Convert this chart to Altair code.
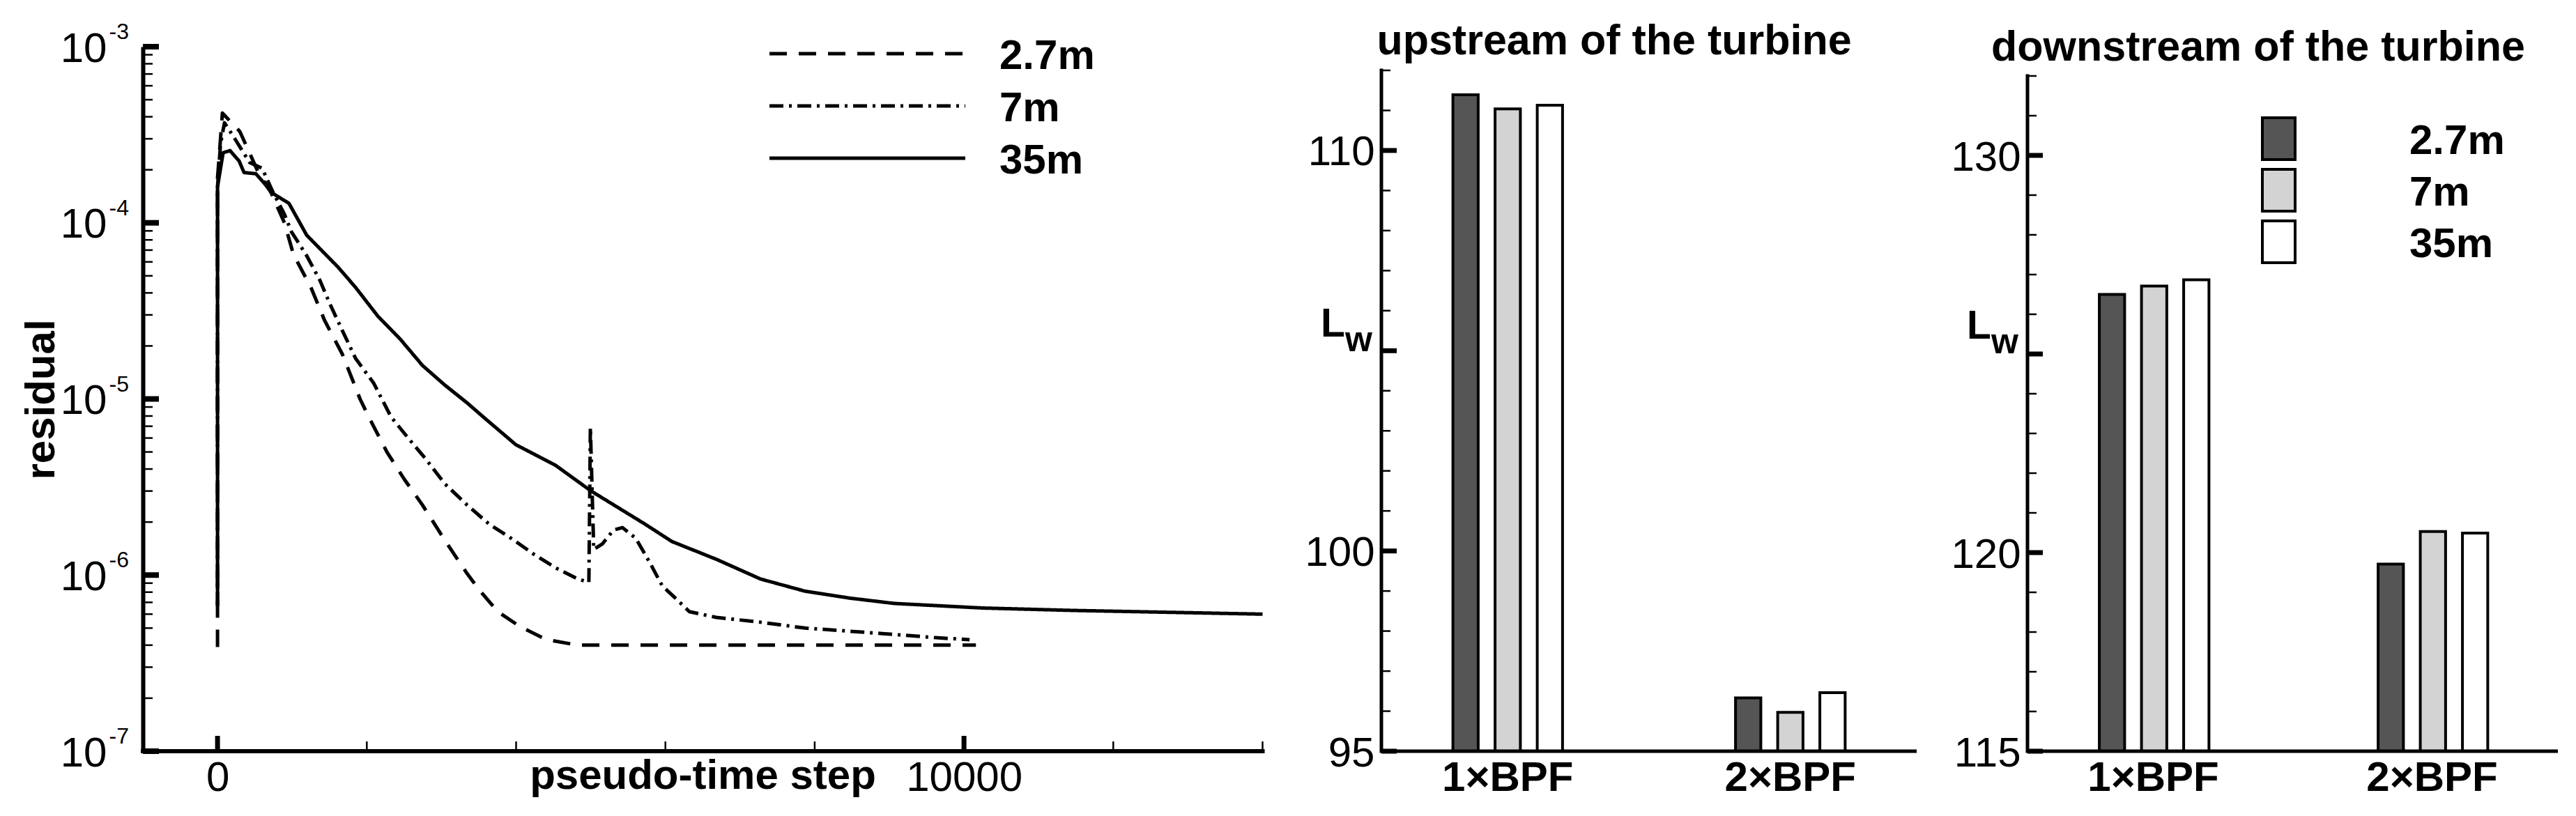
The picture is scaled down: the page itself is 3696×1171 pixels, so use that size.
import altair as alt
import pandas as pd

FONT = "Liberation Sans"

# ---------------- data: residual histories ----------------
grids = ["2.7m", "7m", "35m"]

steps_2p7m = [0, 0, 40, 65, 299, 542, 719, 896, 1018, 1251, 1433, 1671, 1909, 2026, 2269,
              2502, 2745, 3044, 3343, 3520, 3754, 4052, 4407, 4827, 6000, 8000, 10160]
resid_2p7m = [3.9e-7, 1.8e-4, 3.0e-4, 4.2e-4, 3.3e-4, 1.95e-4, 1.48e-4, 1.0e-4, 6.6e-5, 4.3e-5,
              2.8e-5, 1.8e-5, 1.0e-5, 7.9e-6, 5.0e-6, 3.5e-6, 2.5e-6, 1.58e-6, 1.02e-6, 8.1e-7,
              6.2e-7, 5.1e-7, 4.3e-7, 4.0e-7, 4.0e-7, 4.0e-7, 4.0e-7]

steps_7m = [0, 0, 40, 93, 243, 430, 598, 747, 896, 990, 1195, 1373, 1494, 1671, 1849, 2092,
            2325, 2568, 2801, 3044, 3343, 3637, 3931, 4230, 4528, 4827, 4975, 4995, 5040,
            5154, 5303, 5425, 5602, 5780, 5957, 6134, 6321, 6681, 7274, 7871, 8469, 9066,
            9655, 10075]
resid_7m = [6.7e-7, 1.6e-4, 2.8e-4, 3.7e-4, 2.95e-4, 2.2e-4, 2.04e-4, 1.48e-4, 1.12e-4, 8.9e-5,
            6.5e-5, 4.7e-5, 3.55e-5, 2.45e-5, 1.7e-5, 1.23e-5, 7.9e-6, 5.9e-6, 4.5e-6, 3.3e-6,
            2.5e-6, 1.95e-6, 1.62e-6, 1.32e-6, 1.10e-6, 9.5e-7, 9.1e-7, 6.9e-6, 1.4e-6,
            1.5e-6, 1.8e-6, 1.86e-6, 1.62e-6, 1.2e-6, 8.7e-7, 7.4e-7, 6.2e-7, 5.75e-7, 5.4e-7,
            5.0e-7, 4.8e-7, 4.6e-7, 4.4e-7, 4.3e-7]

steps_35m = [0, 0, 75, 168, 290, 355, 514, 635, 728, 957, 1195, 1615, 1849, 2148, 2446, 2745,
             3044, 3343, 3576, 3996, 4528, 5005, 5724, 6088, 6681, 7274, 7871, 8469, 9066,
             10252, 11447, 14000]
resid_35m = [6.7e-7, 1.6e-4, 2.5e-4, 2.57e-4, 2.24e-4, 1.93e-4, 1.9e-4, 1.66e-4, 1.48e-4,
             1.29e-4, 8.5e-5, 5.6e-5, 4.3e-5, 2.95e-5, 2.19e-5, 1.55e-5, 1.2e-5, 9.5e-6,
             7.8e-6, 5.5e-6, 4.2e-6, 3.0e-6, 1.95e-6, 1.55e-6, 1.23e-6, 9.5e-7, 8.1e-7,
             7.4e-7, 6.9e-7, 6.5e-7, 6.3e-7, 6.0e-7]

# ---------------- data: sound power levels ----------------
categories = ["1×BPF", "2×BPF"]
up_1bpf = [111.39, 111.04, 111.13]
up_2bpf = [96.33, 95.97, 96.46]
down_1bpf = [126.50, 126.71, 126.87]
down_2bpf = [119.71, 120.53, 120.49]

# ---------------- axis tick values ----------------
res_major = [1e-7, 1e-6, 1e-5, 1e-4, 1e-3]
res_exponents = ["-7", "-6", "-5", "-4", "-3"]
res_minor = [k * 10.0 ** e for e in range(-7, -3) for k in range(2, 10)]
step_labels = [0, 10000]
step_minor = [2000, 4000, 6000, 8000, 12000, 14000]

up_major = [95, 100, 105, 110]
up_minor = [96, 97, 98, 99, 101, 102, 103, 104, 106, 107, 108, 109, 111, 112]
up_labels = [95, 100, 110]
down_major = [115, 120, 125, 130]
down_minor = [116, 117, 118, 119, 121, 122, 123, 124, 126, 127, 128, 129, 131, 132]
down_labels = [115, 120, 130]

# ---------------- layout ----------------
W1, W2, W3, H = 1618, 768, 761, 1011

rows = []
for name, st, rs in zip(grids, [steps_2p7m, steps_7m, steps_35m], [resid_2p7m, resid_7m, resid_35m]):
    for i, (s, r) in enumerate(zip(st, rs)):
        rows.append({"grid": name, "step": s, "res": r, "idx": i})
df_lines = pd.DataFrame(rows)

xs1 = alt.Scale(domain=[-1000, -1000 + W1 / 0.1071], nice=False, zero=False)
ys1 = alt.Scale(type="log", domain=[1e-7, 1e-3], nice=False)
dash_scale = alt.Scale(domain=grids, range=[[25, 17], [20, 8, 4, 8], [1, 0]])
fill_scale = alt.Scale(domain=grids, range=["#555555", "#d3d3d3", "#ffffff"])

lines = alt.Chart(df_lines).mark_line(color="black", strokeWidth=5, strokeJoin="round").encode(
    x=alt.X("step:Q", scale=xs1, axis=alt.Axis(
        values=step_labels, format="d", domain=False, ticks=False, tickSize=0, grid=False,
        labelFont=FONT, labelFontSize=60, labelColor="black", labelPadding=9,
        title="pseudo-time step", titleFont=FONT, titleFontSize=60, titleFontWeight="bold",
        titleColor="black", titleX=803, titleY=53, titleBaseline="alphabetic", titleAlign="center")),
    y=alt.Y("res:Q", scale=ys1, axis=alt.Axis(
        values=res_major, labelExpr="'10'", domain=True, domainColor="black", domainWidth=6,
        ticks=False, tickSize=0, grid=False, labelFont=FONT, labelFontSize=60,
        labelColor="black", labelPadding=52, labelOffset=3,
        title="residual", titleFont=FONT, titleFontSize=60, titleFontWeight="bold",
        titleColor="black", titleX=-128, titleY=506, titleAngle=270,
        titleBaseline="alphabetic", titleAlign="center")),
    strokeDash=alt.StrokeDash("grid:N", scale=dash_scale, legend=None),
    order=alt.Order("idx:Q"),
)


def vrules(df, field, scale, length, width):
    return alt.Chart(df).mark_rule(color="black", strokeWidth=width).encode(
        y=alt.Y(f"{field}:Q", scale=scale),
        x=alt.value(0), x2=alt.value(length))


def hrules(df, field, scale, length, width):
    return alt.Chart(df).mark_rule(color="black", strokeWidth=width).encode(
        x=alt.X(f"{field}:Q", scale=scale),
        y=alt.value(H), y2=alt.value(H - length))


ymaj1 = vrules(pd.DataFrame({"res": res_major}), "res", ys1, 23, 8)
ymin1 = vrules(pd.DataFrame({"res": res_minor}), "res", ys1, 14, 2.5)
xmaj1 = hrules(pd.DataFrame({"step": step_labels}), "step", xs1, 22, 7)
xmin1 = hrules(pd.DataFrame({"step": step_minor}), "step", xs1, 14, 2.5)
xline1 = alt.Chart(pd.DataFrame({"step": [-1000], "step_end": [14000]})).mark_rule(
    color="black", strokeWidth=6, strokeCap="square").encode(
    x=alt.X("step:Q", scale=xs1), x2="step_end:Q", y=alt.value(H))
sup1 = alt.Chart(pd.DataFrame({"res": res_major, "sup": res_exponents})).mark_text(
    font=FONT, fontSize=32, align="right", baseline="middle", dy=-21, color="black").encode(
    y=alt.Y("res:Q", scale=ys1), x=alt.value(-20), text="sup:N")

# legend of the residual panel: rows placed by a point scale
leg1_y = alt.Scale(type="point", domain=grids, range=[10, 160], padding=0)
leg1_df = pd.DataFrame({"grid": grids})
leg1_lines = alt.Chart(leg1_df).mark_rule(color="black", strokeWidth=5).encode(
    y=alt.Y("grid:N", scale=leg1_y, axis=None),
    x=alt.value(899), x2=alt.value(1180),
    strokeDash=alt.StrokeDash("grid:N", scale=dash_scale, legend=None))
leg1_text = alt.Chart(leg1_df).mark_text(
    font=FONT, fontSize=60, fontWeight="bold", align="left", baseline="middle", dy=4,
    color="black").encode(
    y=alt.Y("grid:N", scale=leg1_y, axis=None), x=alt.value(1229), text="grid:N")

panel1 = alt.layer(
    alt.layer(lines, ymaj1, ymin1, xmaj1, xmin1, xline1, sup1),
    leg1_lines, leg1_text,
).resolve_scale(y="independent").properties(width=W1, height=H)


def bar_panel(v1, v2, lo, px_per_unit, width, band_step, majors, minors, labels, title,
              title_x, title_y, lw_y, with_legend):
    df = pd.DataFrame({"cat": [c for c in categories for _ in grids],
                       "grid": grids * 2, "val": v1 + v2})
    ys = alt.Scale(domain=[lo, lo + H / px_per_unit], nice=False, zero=False)
    bw = 3 * band_step * 0.1492
    pi = 1 - bw / band_step
    po = (width / band_step - 2 + pi) / 2
    bars = alt.Chart(df).mark_bar(stroke="black", strokeWidth=4).encode(
        x=alt.X("cat:N", sort=categories,
                scale=alt.Scale(domain=categories, paddingInner=pi, paddingOuter=po),
                axis=alt.Axis(domain=False, ticks=False, tickSize=0, grid=False, labelAngle=0,
                              labelFont=FONT, labelFontSize=60, labelFontWeight="bold",
                              labelColor="black", labelPadding=9, labelLimit=1000, title=None)),
        xOffset=alt.XOffset("grid:N", sort=grids,
                            scale=alt.Scale(domain=grids, paddingInner=0.4, paddingOuter=0.2)),
        y=alt.Y("val:Q", scale=ys, axis=alt.Axis(
            values=labels, format="d", domain=False, ticks=False, tickSize=0, grid=False,
            labelFont=FONT, labelFontSize=60, labelColor="black", labelPadding=10,
            labelOffset=3, title=None)),
        y2=alt.datum(lo),
        fill=alt.Fill("grid:N", scale=fill_scale, legend=None),
    )
    ymaj = vrules(pd.DataFrame({"val": majors}), "val", ys, 22, 7)
    ymin = vrules(pd.DataFrame({"val": minors}), "val", ys, 13, 2.5)
    yline = alt.Chart(pd.DataFrame({"val": [lo], "val_end": [max(minors)]})).mark_rule(
        color="black", strokeWidth=5, strokeCap="square").encode(
        y=alt.Y("val:Q", scale=ys), y2="val_end:Q", x=alt.value(0))
    xline = alt.Chart(pd.DataFrame({"val": [lo]})).mark_rule(
        color="black", strokeWidth=5).encode(
        y=alt.Y("val:Q", scale=ys), x=alt.value(0), x2=alt.value(width))
    ttl = alt.Chart(pd.DataFrame({"t": [title]})).mark_text(
        font=FONT, fontSize=61, fontWeight="bold", align="center", baseline="alphabetic",
        color="black").encode(text="t:N", x=alt.value(title_x), y=alt.value(title_y))
    lw_l = alt.Chart(pd.DataFrame({"t": ["L"]})).mark_text(
        font=FONT, fontSize=57, fontWeight="bold", align="left", baseline="alphabetic",
        color="black").encode(text="t:N", x=alt.value(-87), y=alt.value(lw_y))
    lw_w = alt.Chart(pd.DataFrame({"t": ["w"]})).mark_text(
        font=FONT, fontSize=50, fontWeight="bold", align="left", baseline="alphabetic",
        color="black").encode(text="t:N", x=alt.value(-52), y=alt.value(lw_y + 21))
    main = alt.layer(bars, ymaj, ymin, yline, xline, ttl, lw_l, lw_w)
    if not with_legend:
        return main.properties(width=width, height=H)
    leg_y = alt.Scale(type="point", domain=grids, range=[132, 280], padding=0)
    leg_df = pd.DataFrame({"grid": grids})
    leg_sym = alt.Chart(leg_df).mark_point(
        shape="M-0.783,-1H0.783V1H-0.783Z", size=3600, filled=True, opacity=1,
        stroke="black", strokeWidth=4, strokeOpacity=1).encode(
        y=alt.Y("grid:N", scale=leg_y, axis=None), x=alt.value(360.5),
        fill=alt.Fill("grid:N", scale=fill_scale, legend=None))
    leg_txt = alt.Chart(leg_df).mark_text(
        font=FONT, fontSize=60, fontWeight="bold", align="left", baseline="middle", dy=4,
        color="black").encode(
        y=alt.Y("grid:N", scale=leg_y, axis=None), x=alt.value(548), text="grid:N")
    return alt.layer(main, leg_sym, leg_txt).resolve_scale(y="independent").properties(
        width=width, height=H)


panel2 = bar_panel(up_1bpf, up_2bpf, 95, 57.47, W2, 405.5, up_major, up_minor, up_labels,
                   "upstream of the turbine", 334, 11, 416, False)
panel3 = bar_panel(down_1bpf, down_2bpf, 115, 57.0, W3, 400.0, down_major, down_minor, down_labels,
                   "downstream of the turbine", 331, 20, 419, True)

chart = alt.hconcat(panel1, panel2, panel3, spacing=159, bounds="flush").resolve_scale(
    fill="independent", strokeDash="independent"
).properties(
    padding={"left": 21, "top": 21, "right": 10, "bottom": 10},
    background="white",
).configure_view(stroke=None)

chart.save("out.html", embed_options={"renderer": "svg", "actions": False})
